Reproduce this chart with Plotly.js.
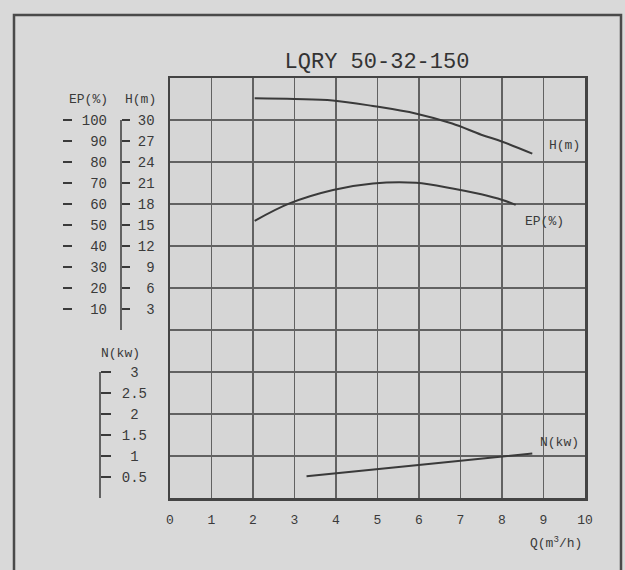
<!DOCTYPE html>
<html>
<head>
<meta charset="utf-8">
<script src="https://cdn.plot.ly/plotly-3.0.1.min.js"></script>
<style>html,body{margin:0;padding:0;background:#d9d9d9;}#chart{width:625px;height:570px;}</style>
</head>
<body>
<div id="chart"></div>
<script>
// ---- data ----
const TITLE = "LQRY 50-32-150";
const Q_TICKS = [0, 1, 2, 3, 4, 5, 6, 7, 8, 9, 10];
const EP_TICKS = [10, 20, 30, 40, 50, 60, 70, 80, 90, 100];
const H_TICKS = [3, 6, 9, 12, 15, 18, 21, 24, 27, 30];
const N_TICKS = [0.5, 1, 1.5, 2, 2.5, 3];

const Q_H = [2.04, 3.0, 3.92, 4.89, 5.94, 6.8, 7.5, 8.01, 8.73];
const H_VAL = [33.1, 33.0, 32.8, 32.0, 30.9, 29.5, 27.9, 26.9, 25.2];

const Q_EP = [2.04, 2.88, 3.93, 4.89, 5.93, 6.81, 7.5, 8.01, 8.33];
const EP_VAL = [52.0, 60.3, 66.7, 69.8, 70.1, 67.4, 64.6, 61.9, 59.6];

const Q_N = [3.29, 5.93, 8.73];
const N_VAL = [0.52, 0.78, 1.06];

// ---- layout helpers ----
const W = 625, H = 570;
const ML = 0, MR = 40, MT = 78, MB = 72;
const PW = W - ML - MR;           // paper width in px
const PH = H - MT - MB;           // plot height in px
const px = v => (v - ML) / PW;    // pixel x -> paper x
const py = v => (H - MB - v) / PH; // pixel y -> paper y

const INK = '#3a3a3a';
const GRID = '#626262';
const FONT = 'Liberation Mono, DejaVu Sans Mono, monospace';

const pad = (arr, n) => arr.map(v => String(v).padStart(n, '\u00a0'));

const lineStyle = {color: INK, width: 2, shape: 'spline', smoothing: 1};

const traces = [
  // empty trace that anchors the base grid subplot (no marks)
  {x: [], y: [], xaxis: 'x', yaxis: 'y', mode: 'lines', hoverinfo: 'skip'},
  {x: Q_H, y: H_VAL, yaxis: 'y3', mode: 'lines', line: lineStyle, hoverinfo: 'skip'},
  {x: Q_EP, y: EP_VAL, yaxis: 'y2', mode: 'lines', line: lineStyle, hoverinfo: 'skip'},
  {x: Q_N, y: N_VAL, yaxis: 'y4', mode: 'lines', line: lineStyle, hoverinfo: 'skip'}
];

const tickFont = {family: FONT, size: 14, color: INK};

const layout = {
  width: W, height: H,
  margin: {l: ML, r: MR, t: MT, b: MB, pad: 0},
  paper_bgcolor: '#d9d9d9',
  plot_bgcolor: '#d6d6d6',
  showlegend: false,
  title: {text: TITLE, x: px(377), xanchor: 'center', y: 1 - 60 / H, yanchor: 'middle',
          xref: 'paper', yref: 'container',
          font: {family: FONT, size: 22, color: '#333'}},
  xaxis: {
    domain: [px(170), px(585)],
    range: [0, 10], tickvals: Q_TICKS, ticktext: Q_TICKS.map(String),
    showgrid: true, gridcolor: GRID, gridwidth: 1.6,
    showline: true, mirror: true, linecolor: '#444', linewidth: 2.5,
    zeroline: false, ticks: 'outside', ticklen: 8, tickcolor: 'rgba(0,0,0,0)',
    tickfont: {family: FONT, size: 13, color: INK}, fixedrange: true
  },
  yaxis: {
    range: [0, 10], dtick: 1, showgrid: true, gridcolor: GRID, gridwidth: 1.6,
    showline: true, mirror: true, linecolor: '#444', linewidth: 2.5,
    zeroline: false, showticklabels: false, ticks: '', fixedrange: true
  },
  // EP (%) scale: 0 % at grid line 4, 100 % at grid line 9
  yaxis2: {
    overlaying: 'y', anchor: 'free', side: 'right', position: px(62),
    range: [-80, 120], tickvals: EP_TICKS, ticktext: pad(EP_TICKS, 3),
    ticks: 'outside', ticklen: 9, tickwidth: 1.5, tickcolor: INK,
    ticklabelstandoff: 7,
    showgrid: false, showline: false, zeroline: false,
    tickfont: tickFont, fixedrange: true
  },
  // H (m) scale: 0 m at grid line 4, 30 m at grid line 9
  yaxis3: {
    overlaying: 'y', anchor: 'free', side: 'right', position: px(121),
    range: [-24, 36], tickvals: H_TICKS, ticktext: pad(H_TICKS, 2),
    ticks: 'outside', ticklen: 8, tickwidth: 1.5, tickcolor: INK,
    ticklabelstandoff: 5,
    showgrid: false, showline: false, zeroline: false,
    tickfont: tickFont, fixedrange: true
  },
  // N (kw) scale: 1 kW per grid line
  yaxis4: {
    overlaying: 'y', anchor: 'free', side: 'right', position: px(100),
    range: [0, 10], tickvals: N_TICKS,
    ticktext: N_TICKS.map(v => Number.isInteger(v) ? '\u00a0' + v : String(v)),
    ticks: 'outside', ticklen: 10, tickwidth: 1.5, tickcolor: INK,
    ticklabelstandoff: 8,
    showgrid: false, showline: false, zeroline: false,
    tickfont: tickFont, fixedrange: true
  },
  shapes: [
    // outer frame of the sheet
    {type: 'rect', xref: 'paper', yref: 'paper', x0: px(14), x1: px(621), y0: py(590), y1: py(15),
     line: {color: '#4a4a4a', width: 2.5}, fillcolor: 'rgba(0,0,0,0)', layer: 'below'},
    // vertical spine of the H scale
    {type: 'line', xref: 'paper', yref: 'y3', x0: px(121), x1: px(121), y0: 0, y1: 30,
     line: {color: INK, width: 1.5}},
    // vertical spine of the N scale
    {type: 'line', xref: 'paper', yref: 'y4', x0: px(100), x1: px(100), y0: 0, y1: 3,
     line: {color: INK, width: 1.5}}
  ],
  annotations: [
    {text: 'EP(%)', xref: 'paper', yref: 'paper', x: px(88), y: py(99), showarrow: false,
     xanchor: 'center', yanchor: 'middle', font: {family: FONT, size: 13, color: INK}},
    {text: 'H(m)', xref: 'paper', yref: 'paper', x: px(140), y: py(99), showarrow: false,
     xanchor: 'center', yanchor: 'middle', font: {family: FONT, size: 13, color: INK}},
    {text: 'N(kw)', xref: 'paper', yref: 'paper', x: px(120), y: py(353), showarrow: false,
     xanchor: 'center', yanchor: 'middle', font: {family: FONT, size: 13, color: INK}},
    {text: 'H(m)', xref: 'paper', yref: 'paper', x: px(564), y: py(145), showarrow: false,
     xanchor: 'center', yanchor: 'middle', font: {family: FONT, size: 13, color: INK}},
    {text: 'EP(%)', xref: 'paper', yref: 'paper', x: px(544), y: py(221), showarrow: false,
     xanchor: 'center', yanchor: 'middle', font: {family: FONT, size: 13, color: INK}},
    {text: 'N(kw)', xref: 'paper', yref: 'paper', x: px(559), y: py(442), showarrow: false,
     xanchor: 'center', yanchor: 'middle', font: {family: FONT, size: 13, color: INK}},
    {text: 'Q(m<sup>3</sup>/h)', xref: 'paper', yref: 'paper', x: px(584), y: py(542), showarrow: false,
     xanchor: 'right', yanchor: 'middle', font: {family: FONT, size: 13, color: INK}}
  ]
};

Plotly.newPlot('chart', traces, layout, {staticPlot: true, displayModeBar: false});
</script>
</body>
</html>
